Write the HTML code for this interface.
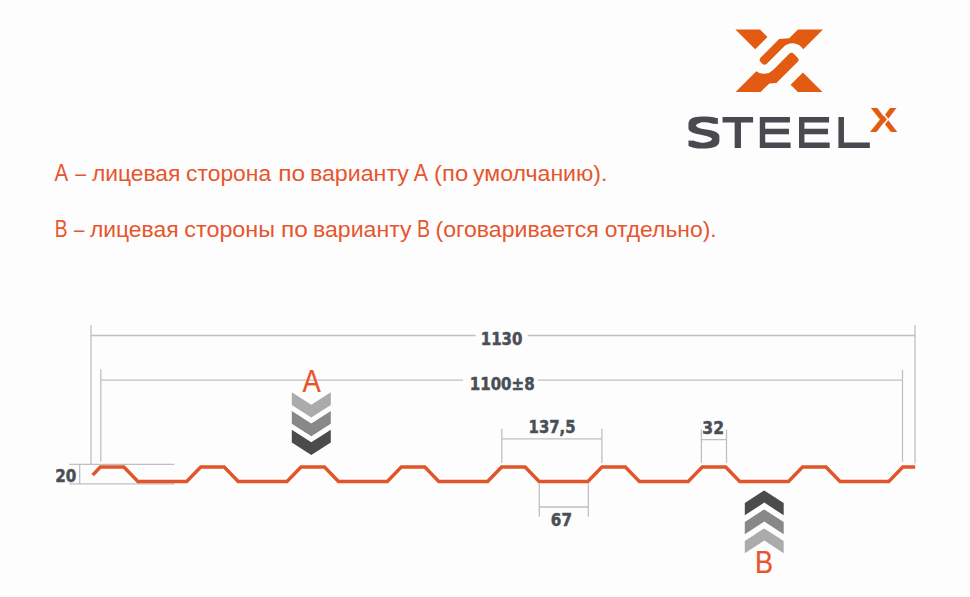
<!DOCTYPE html>
<html><head><meta charset="utf-8">
<style>
html,body{margin:0;padding:0;background:#fdfdfd;}
body{width:970px;height:597px;overflow:hidden;position:relative;}
svg{position:absolute;left:0;top:0;}
.t{font-family:"Liberation Sans",Arial,sans-serif;fill:#e6562e;font-size:23px;}
.n{font-family:"DejaVu Sans Condensed","DejaVu Sans",sans-serif;font-stretch:condensed;font-weight:bold;fill:#4a4e56;stroke:#4a4e56;stroke-width:0.45px;font-size:17px;}
.g{stroke:#c0c0c0;stroke-width:1.3;fill:none;}
</style></head>
<body>
<svg width="970" height="597" viewBox="0 0 970 597">
<rect width="970" height="597" fill="#fdfdfd"/>
<!-- logo mark -->
<g fill="#e35a12">
<polygon points="735.40,29.50 760.00,29.50 767.50,37.00 755.20,49.30"/>
<polygon points="797.90,92.00 822.50,92.00 802.90,72.40 790.60,84.70"/>
<path d="M798.00,29.50 L823.00,29.50 L803.25,49.25 L801.24,47.01 A12.50 12.50 0 0 0 783.56,47.01 L766.81,63.69 Q764.55,65.95 762.29,63.69 L760.71,62.11 Q758.45,59.85 760.71,57.59 L779.20,39.10 L789.20,38.30 Z"/>
<path d="M760.60,91.90 L769.40,83.50 L776.40,83.10 L797.49,62.01 Q799.75,59.75 797.49,57.49 L793.76,53.76 Q791.50,51.50 789.24,53.76 L772.84,70.14 A12.50 12.50 0 0 1 756.33,71.17 L735.60,91.90 Z"/>
</g>
<!-- STEEL -->
<filter id="dl0" x="-15%" y="-15%" width="130%" height="130%"><feMorphology operator="dilate" radius="1.70 2.00"/></filter>
<filter id="dl1" x="-15%" y="-15%" width="130%" height="130%"><feMorphology operator="dilate" radius="1.90 2.00"/></filter>
<filter id="dl2" x="-15%" y="-15%" width="130%" height="130%"><feMorphology operator="dilate" radius="1.15 2.00"/></filter>
<g font-family="DejaVu Sans, sans-serif" font-weight="200" fill="#484a4f" font-size="36.76">
<g filter="url(#dl0)"><text transform="translate(690.30 145.50) scale(1.583 1)" x="-3.27">S</text></g>
<g filter="url(#dl1)"><text transform="translate(724.50 145.50) scale(1.276 1)" x="-0.81">T</text></g>
<g filter="url(#dl2)"><text transform="translate(760.85 145.50) scale(1.859 1)" x="-4.49">E</text></g>
<g filter="url(#dl2)"><text transform="translate(800.15 145.50) scale(1.852 1)" x="-4.49">E</text></g>
<g filter="url(#dl2)"><text transform="translate(839.45 145.50) scale(1.986 1)" x="-4.49">L</text></g>
</g>
<text transform="translate(870.1 131.8) scale(1.218 1)" x="-0.31" font-family="Liberation Sans, Arial, sans-serif" font-weight="bold" fill="#e35a12" font-size="34.4">X</text>
<polyline points="883.7,114.1 887.9,119.4 883.6,124.7" fill="none" stroke="#fdfdfd" stroke-width="1.6" stroke-linejoin="miter"/>

<!-- text lines -->
<text class="t" x="54.60" y="181.2" textLength="13.71" lengthAdjust="spacingAndGlyphs">А</text>
<text class="t" x="75.32" y="181.2" style="font-size:21.3px" textLength="10.86" lengthAdjust="spacingAndGlyphs">–</text>
<text class="t" x="92.00" y="181.2" style="font-size:21.3px" textLength="88.39" lengthAdjust="spacingAndGlyphs">лицевая</text>
<text class="t" x="186.10" y="181.2" style="font-size:21.3px" textLength="85.04" lengthAdjust="spacingAndGlyphs">сторона</text>
<text class="t" x="278.18" y="181.2" style="font-size:21.3px" textLength="26.90" lengthAdjust="spacingAndGlyphs">по</text>
<text class="t" x="309.91" y="181.2" style="font-size:21.3px" textLength="98.99" lengthAdjust="spacingAndGlyphs">варианту</text>
<text class="t" x="413.80" y="181.2" textLength="14.22" lengthAdjust="spacingAndGlyphs">А</text>
<text class="t" x="434.08" y="181.2" style="font-size:21.3px" textLength="34.06" lengthAdjust="spacingAndGlyphs">(по</text>
<text class="t" x="473.10" y="181.2" style="font-size:21.3px" textLength="134.33" lengthAdjust="spacingAndGlyphs">умолчанию).</text>
<text class="t" x="54.77" y="237.1" textLength="12.75" lengthAdjust="spacingAndGlyphs">В</text>
<text class="t" x="73.98" y="237.1" style="font-size:21.3px" textLength="10.40" lengthAdjust="spacingAndGlyphs">–</text>
<text class="t" x="89.90" y="237.1" style="font-size:21.3px" textLength="88.70" lengthAdjust="spacingAndGlyphs">лицевая</text>
<text class="t" x="184.30" y="237.1" style="font-size:21.3px" textLength="90.74" lengthAdjust="spacingAndGlyphs">стороны</text>
<text class="t" x="280.95" y="237.1" style="font-size:21.3px" textLength="26.84" lengthAdjust="spacingAndGlyphs">по</text>
<text class="t" x="312.91" y="237.1" style="font-size:21.3px" textLength="98.69" lengthAdjust="spacingAndGlyphs">варианту</text>
<text class="t" x="416.95" y="237.1" textLength="13.10" lengthAdjust="spacingAndGlyphs">В</text>
<text class="t" x="435.52" y="237.1" style="font-size:21.3px" textLength="163.21" lengthAdjust="spacingAndGlyphs">(оговаривается</text>
<text class="t" x="604.80" y="237.1" style="font-size:21.3px" textLength="111.88" lengthAdjust="spacingAndGlyphs">отдельно).</text>

<!-- dimension lines -->
<g class="g">
<path d="M91 325V464.4M100.8 369.3V461.8M915 325V463.5M902.5 370V461.8"/>
<path d="M91 335.5H475.7M527.8 335.5H915"/>
<path d="M100.8 380.2H463.1M537.9 380.2H902.5"/>
<path d="M69.4 464.4H174.4M69.4 483.9H174.4M79.7 464.4V483.9"/>
<path d="M501.8 428.8V462.9M601.9 428.8V462.9M501.8 438.8H601.9"/>
<path d="M701.4 429.6V462.8M726.5 429.6V462.8M701.4 439.7H726.5"/>
<path d="M539.3 483.6V516.7M588.3 483.6V516.7M539.3 507H588.3"/>
</g>
<!-- dimension numbers -->
<text class="n" x="480.75" y="345.10" font-size="17.00" textLength="41.62" lengthAdjust="spacingAndGlyphs">1130</text>
<text class="n" x="469.73" y="389.90" font-size="17.00" textLength="64.88" lengthAdjust="spacingAndGlyphs">1100±8</text>
<text class="n" x="528.56" y="432.80" font-size="17.00" textLength="46.99" lengthAdjust="spacingAndGlyphs">137,5</text>
<text class="n" x="702.38" y="434.10" font-size="17.00" textLength="21.63" lengthAdjust="spacingAndGlyphs">32</text>
<text class="n" x="550.81" y="525.70" font-size="17.00" textLength="21.18" lengthAdjust="spacingAndGlyphs">67</text>
<text class="n" x="55.31" y="481.50" font-size="17.00" textLength="21.08" lengthAdjust="spacingAndGlyphs">20</text>

<!-- profile -->
<polyline points="92.7,475.0 100.4,467.0 123.9,467.0 137.9,481.5 186.7,481.5 200.7,467.0 224.2,467.0 238.2,481.5 287.0,481.5 301.0,467.0 324.5,467.0 338.5,481.5 387.3,481.5 401.3,467.0 424.8,467.0 438.8,481.5 487.6,481.5 501.6,467.0 525.1,467.0 539.1,481.5 587.9,481.5 601.9,467.0 625.4,467.0 639.4,481.5 688.2,481.5 702.2,467.0 725.7,467.0 739.7,481.5 788.5,481.5 802.5,467.0 826.0,467.0 840.0,481.5 888.8,481.5 902.8,467.0 915.2,467.0" fill="none" stroke="#e0552a" stroke-width="3.4" stroke-linejoin="miter"/>

<!-- A arrows -->
<text transform="translate(302.5 391.6) scale(0.88 1)" x="-0.06" font-family="Liberation Sans, Arial, sans-serif" font-size="31" fill="#e8552d" stroke="#e8552d" stroke-width="0.25">A</text>
<g>
<polygon fill="#ababab" points="291.8,392.2 311.3,404.7 330.8,392.2 330.8,404.9 311.3,417.4 291.8,404.9"/>
<polygon fill="#888888" points="291.8,411.0 311.3,423.5 330.8,411.0 330.8,423.7 311.3,436.2 291.8,423.7"/>
<polygon fill="#4b4b4b" points="291.8,429.8 311.3,442.3 330.8,429.8 330.8,442.5 311.3,455.0 291.8,442.5"/>
</g>
<!-- B arrows -->
<g>
<polygon fill="#4b4b4b" points="764.25,490.40 783.70,503.10 783.70,515.30 764.25,502.60 744.80,515.30 744.80,503.10"/>
<polygon fill="#888888" points="764.25,509.40 783.70,522.10 783.70,534.30 764.25,521.60 744.80,534.30 744.80,522.10"/>
<polygon fill="#ababab" points="764.25,528.40 783.70,541.10 783.70,553.30 764.25,540.60 744.80,553.30 744.80,541.10"/>
</g>
<text transform="translate(757.1 572.6) scale(0.867 1)" x="-2.56" font-family="Liberation Sans, Arial, sans-serif" font-size="31.2" fill="#e8552d" stroke="#e8552d" stroke-width="0.25">B</text>
</svg>
</body></html>
